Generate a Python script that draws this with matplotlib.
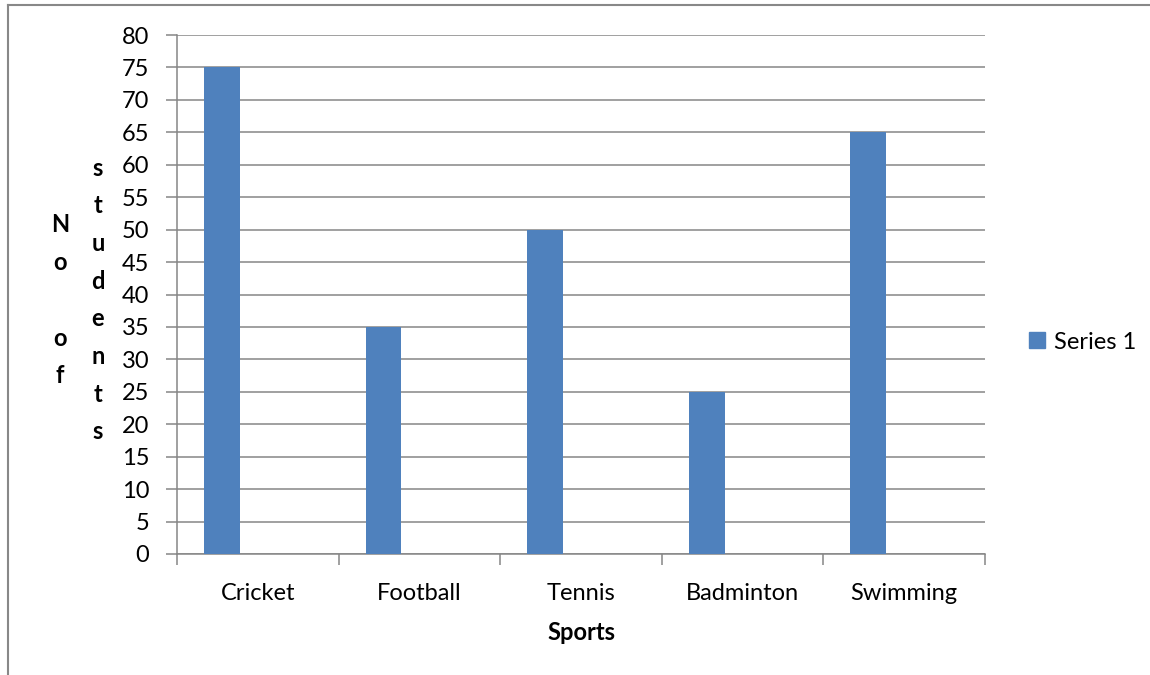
import numpy as np
import matplotlib.pyplot as plt
from matplotlib.lines import Line2D

# Data
sports = ['Cricket', 'Football', 'Tennis', 'Badminton', 'Swimming']
students = [75, 35, 50, 25, 65]
series_name = 'Series 1'
y_ticks = list(range(0, 85, 5))

bar_color = '#4F81BD'
grid_color = '#868686'
font = 'Lato'
fs = 17

fig = plt.figure(figsize=(11.5, 6.75), dpi=100)
ax = fig.add_axes([177 / 1150, 1 - 554 / 675, 808 / 1150, 519 / 675])

# Excel-style clustered layout: bar sits in left part of each category
idx = np.arange(len(sports))
width = 36 / 162
offset = 27 / 162 + width / 2
bars = ax.bar(idx + offset, students, width=width, color=bar_color, zorder=3, label=series_name)

ax.set_xlim(0, len(sports))
ax.set_ylim(0, 80)
ax.set_yticks(y_ticks)
ax.set_yticklabels([str(v) for v in y_ticks], fontfamily=font, fontsize=fs)
ax.yaxis.grid(True, color=grid_color, linewidth=1.1, zorder=0)

ax.set_xticks(np.arange(len(sports) + 1))
ax.set_xticklabels([])
ax.set_xticks(idx + 0.5, minor=True)
ax.set_xticklabels(sports, minor=True, fontfamily=font, fontsize=fs)
ax.tick_params(axis='x', which='minor', length=0, pad=21)
ax.tick_params(axis='both', which='major', direction='out', length=8, width=1.1, color=grid_color)
ax.tick_params(axis='y', pad=12)

for s in ['top', 'right']:
    ax.spines[s].set_visible(False)
for s in ['left', 'bottom']:
    ax.spines[s].set_color(grid_color)
    ax.spines[s].set_linewidth(1.1)

ax.set_xlabel('Sports', fontfamily=font, fontsize=fs, fontweight='bold', labelpad=12)

# y label wrapped into narrow box: letters stacked in two columns
col1 = ['N', 'o', '', 'o', 'f']
col2 = list('students')
step = 37.7 / 675
for k, ch in enumerate(col1):
    y = 1 - (225 / 675) - k * step
    fig.text(60 / 1150, y, ch, ha='center', va='center', fontfamily=font,
             fontsize=fs, fontweight='bold')
for k, ch in enumerate(col2):
    y = 1 - (168 / 675) - k * step
    fig.text(98 / 1150, y, ch, ha='center', va='center', fontfamily=font,
             fontsize=fs, fontweight='bold')

# legend
handle = plt.Rectangle((0, 0), 1, 1, color=bar_color)
fig.legend([handle], [series_name], loc='center left', bbox_to_anchor=(1008 / 1150, 1 - 342 / 675),
           frameon=False, prop={'family': font, 'size': fs}, handlelength=0.65, handleheight=0.65,
           handletextpad=0.4)

# chart area border (only top and left visible)
fig.add_artist(Line2D([8 / 1150, 8 / 1150], [0, 1 - 5 / 675], color='#888888', linewidth=1.5,
                      transform=fig.transFigure))
fig.add_artist(Line2D([8 / 1150, 1], [1 - 5 / 675, 1 - 5 / 675], color='#888888', linewidth=1.5,
                      transform=fig.transFigure))

fig.savefig('out.png', dpi=100)
